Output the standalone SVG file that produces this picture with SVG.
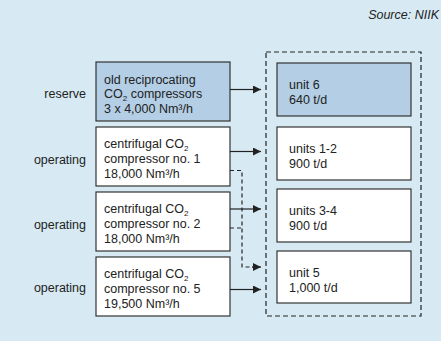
<svg xmlns="http://www.w3.org/2000/svg" width="441" height="341" viewBox="0 0 441 341">
<style>
.t{font-family:"Liberation Sans",Arial,sans-serif;font-size:12.5px;fill:#222}
.lbl{text-anchor:end}
.box{stroke:#333;stroke-width:1.2;fill:#fff}
.blue{fill:#b3cee5}
.c{stroke:#222;stroke-width:1.2;fill:none}
.d{stroke:#222;stroke-width:1.2;fill:none;stroke-dasharray:4 3}
.sub{font-size:8px}
</style>
<defs>
<marker id="ah" viewBox="0 0 10 10" refX="10" refY="5" markerWidth="8" markerHeight="8" markerUnits="userSpaceOnUse" orient="auto">
<path d="M0,0 L10,5 L0,10 z" fill="#222"/>
</marker>
</defs>
<rect width="441" height="341" fill="#d7eaf4"/>
<text class="t" x="439" y="19" text-anchor="end" font-style="italic" font-size="11.5">Source: NIIK</text>
<g id="group">
<rect x="266" y="52" width="155" height="264" fill="none" stroke="#222" stroke-width="1.2" stroke-dasharray="5 3"/>
</g>
<g id="c1">
<text class="t lbl" x="86" y="97.5">reserve</text>
<rect class="box blue" x="96" y="62" width="134" height="59"/>
<text class="t" x="104" y="83.5">old reciprocating</text>
<text class="t" x="104" y="98">CO<tspan class="sub" dy="3">2</tspan><tspan dy="-3"> compressors</tspan></text>
<text class="t" x="104" y="112.5">3 x 4,000 Nm³/h</text>
</g>
<g id="c2">
<text class="t lbl" x="86" y="164">operating</text>
<rect class="box" x="96" y="127" width="134" height="59"/>
<text class="t" x="104" y="148">centrifugal CO<tspan class="sub" dy="3">2</tspan></text>
<text class="t" x="104" y="163">compressor no. 1</text>
<text class="t" x="104" y="177.5">18,000 Nm³/h</text>
</g>
<g id="c3">
<text class="t lbl" x="86" y="229">operating</text>
<rect class="box" x="96" y="192" width="134" height="59"/>
<text class="t" x="104" y="213">centrifugal CO<tspan class="sub" dy="3">2</tspan></text>
<text class="t" x="104" y="228">compressor no. 2</text>
<text class="t" x="104" y="242.5">18,000 Nm³/h</text>
</g>
<g id="c5">
<text class="t lbl" x="86" y="292">operating</text>
<rect class="box" x="96" y="257" width="134" height="59"/>
<text class="t" x="104" y="278">centrifugal CO<tspan class="sub" dy="3">2</tspan></text>
<text class="t" x="104" y="293">compressor no. 5</text>
<text class="t" x="104" y="307.5">19,500 Nm³/h</text>
</g>
<g id="u6">
<rect class="box blue" x="277" y="63" width="134" height="53"/>
<text class="t" x="289" y="89">unit 6</text>
<text class="t" x="289" y="104">640 t/d</text>
</g>
<g id="u12">
<rect class="box" x="277" y="127" width="134" height="53"/>
<text class="t" x="289" y="152.5">units 1-2</text>
<text class="t" x="289" y="167.5">900 t/d</text>
</g>
<g id="u34">
<rect class="box" x="277" y="189" width="134" height="53"/>
<text class="t" x="289" y="214.5">units 3-4</text>
<text class="t" x="289" y="229.5">900 t/d</text>
</g>
<g id="u5">
<rect class="box" x="277" y="251" width="134" height="52"/>
<text class="t" x="289" y="276.5">unit 5</text>
<text class="t" x="289" y="291.5">1,000 t/d</text>
</g>
<g id="connectors">
<line class="c" x1="230" y1="89.5" x2="261" y2="89.5" marker-end="url(#ah)"/>
<line class="c" x1="230" y1="151.5" x2="261" y2="151.5" marker-end="url(#ah)"/>
<line class="c" x1="230" y1="209" x2="261" y2="209" marker-end="url(#ah)"/>
<line class="c" x1="230" y1="289.5" x2="261" y2="289.5" marker-end="url(#ah)"/>
<path class="d" d="M230,170.5 H242 V267 H253"/>
<path class="d" d="M230,228 H242"/>
<line class="c" x1="252" y1="267" x2="261" y2="267" marker-end="url(#ah)"/>
</g>
</svg>
